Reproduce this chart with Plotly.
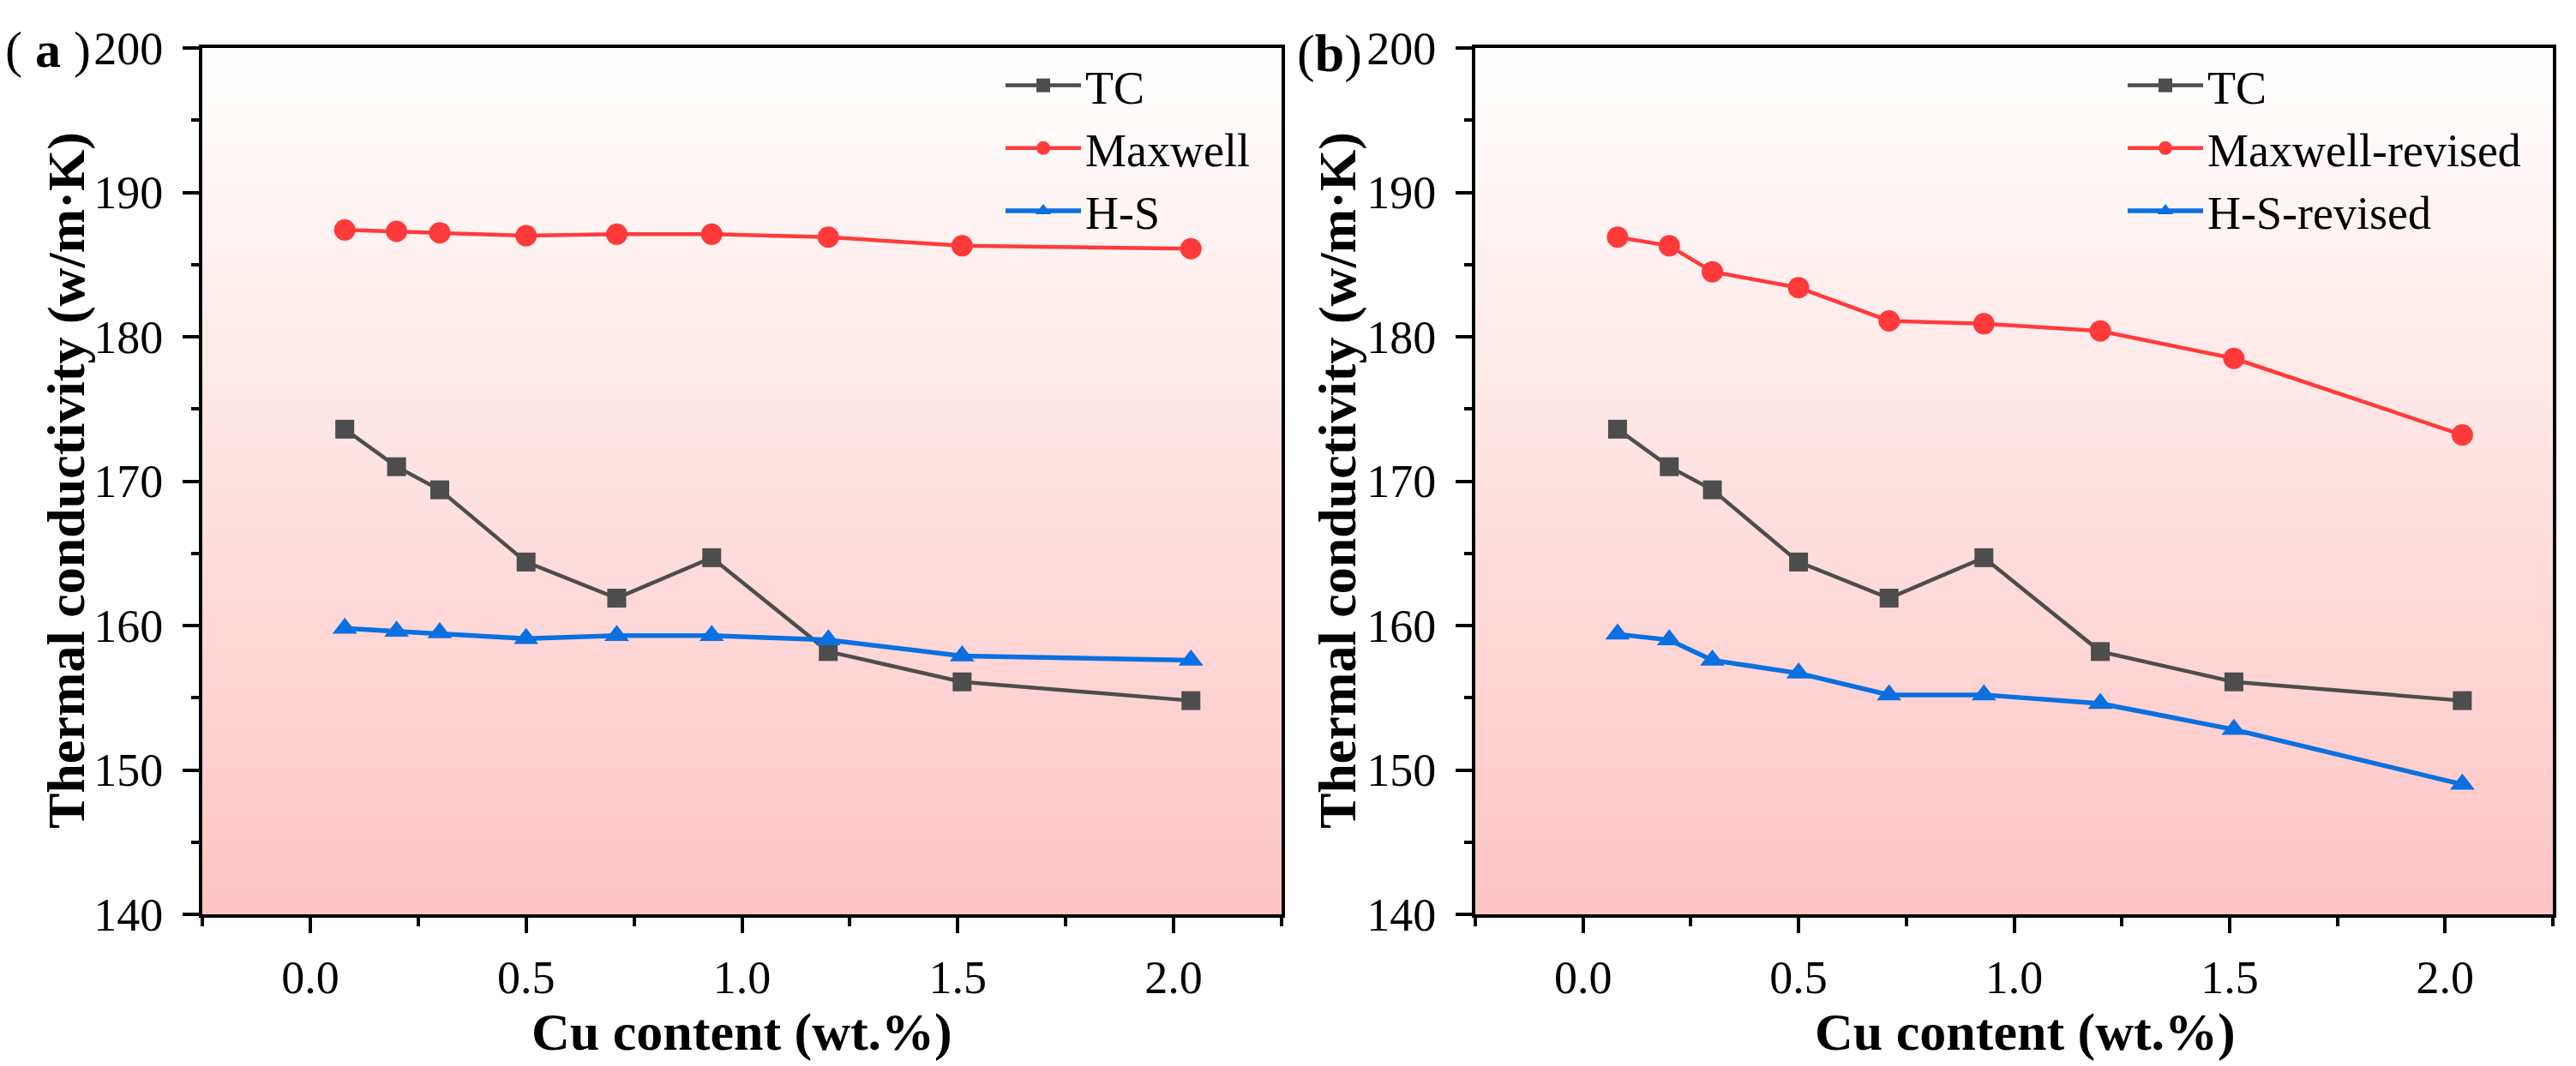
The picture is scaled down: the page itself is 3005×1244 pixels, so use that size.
import plotly.graph_objects as go

# ---------------- data ----------------
cu_content = [0.08, 0.2, 0.3, 0.5, 0.71, 0.93, 1.2, 1.51, 2.04]

tc = [173.6, 171.0, 169.4, 164.4, 161.9, 164.7, 158.2, 156.1, 154.8]

maxwell = [187.4, 187.3, 187.2, 187.0, 187.1, 187.1, 186.9, 186.3, 186.1]
hs = [159.8, 159.6, 159.5, 159.1, 159.3, 159.3, 159.0, 157.9, 157.6]

maxwell_revised = [186.9, 186.3, 184.5, 183.4, 181.1, 180.9, 180.4, 178.5, 173.2]
hs_revised = [159.4, 159.0, 157.6, 156.7, 155.2, 155.2, 154.6, 152.8, 149.0]

x_ticks = [0.0, 0.5, 1.0, 1.5, 2.0]
y_ticks = [140, 150, 160, 170, 180, 190, 200]

# ---------------- style ----------------
FONT = "Liberation Serif, serif"
C_TC = "#4d4d4d"
C_MAX = "#ff3a3a"
C_HS = "#0a70e0"
W, H = 3005, 1244

fig = go.Figure()


def add_panel(xa, ya, legend, names, series):
    specs = [
        (names[0], series[0], C_TC, "square", 22, 4.5),
        (names[1], series[1], C_MAX, "circle", 25, 4.5),
        (names[2], series[2], C_HS, "triangle-up", 25, 5.5),
    ]
    for name, ys, col, sym, ms, lw in specs:
        fig.add_trace(go.Scatter(
            x=cu_content, y=ys, name=name, mode="lines+markers",
            xaxis=xa, yaxis=ya, legend=legend,
            line=dict(color=col, width=lw),
            marker=dict(symbol=sym, size=ms, color=col, line=dict(width=0)),
        ))


add_panel("x", "y", "legend", ["TC", "Maxwell", "H-S"], [tc, maxwell, hs])
add_panel("x2", "y2", "legend2", ["TC", "Maxwell-revised", "H-S-revised"],
          [tc, maxwell_revised, hs_revised])

# gradient background (white top -> pink bottom)
shapes = []
N = 80
top = (255, 255, 255)
bot = (255, 196, 196)
for ax_x, ax_y in (("x", "y"), ("x2", "y2")):
    for i in range(N):
        t = (i + 0.5) / N
        r = round(top[0] + (bot[0] - top[0]) * t)
        g = round(top[1] + (bot[1] - top[1]) * t)
        b = round(top[2] + (bot[2] - top[2]) * t)
        shapes.append(dict(
            type="rect", xref=f"{ax_x} domain", yref=f"{ax_y} domain",
            x0=0, x1=1, y0=1 - (i + 1) / N - 0.002, y1=1 - i / N,
            fillcolor=f"rgb({r},{g},{b})", line=dict(width=0), layer="below",
        ))

xdom_a = [236 / W, 1495 / W]
xdom_b = [1721 / W, 2978 / W]
ydom = [1 - 1067 / H, 1 - 56 / H]

axis_common = dict(
    showgrid=False, zeroline=False, showline=True, linecolor="black",
    linewidth=4, mirror=True, ticks="outside", tickwidth=4, tickcolor="black",
    automargin=False,
    tickfont=dict(family=FONT, size=54, color="black"),
)
xaxis_cfg = dict(axis_common, range=[-0.25, 2.25], tickvals=x_ticks,
                 ticktext=[f"{v:.1f}" for v in x_ticks], ticklen=18,
                 ticklabelstandoff=5,
                 minor=dict(ticks="outside", ticklen=10, tickwidth=4,
                            tickcolor="black", tick0=-0.25, dtick=0.25))
yaxis_cfg = dict(axis_common, range=[140, 200], tickvals=y_ticks,
                 ticktext=[str(v) for v in y_ticks], ticklen=19,
                 ticklabelstandoff=12,
                 minor=dict(ticks="outside", ticklen=9, tickwidth=4,
                            tickcolor="black", tick0=140, dtick=5))

legend_common = dict(
    font=dict(family=FONT, size=54, color="black"),
    bgcolor="rgba(0,0,0,0)", borderwidth=0, itemwidth=88,
    xanchor="left", yanchor="top", tracegroupgap=0,
)

title_font = dict(family=FONT, size=62, color="black")
annotations = [
    dict(text="<b>Cu content (wt.%)</b>", x=865 / W, y=1 - 1204 / H,
         xref="paper", yref="paper", showarrow=False, font=title_font,
         xanchor="center", yanchor="middle"),
    dict(text="<b>Cu content (wt.%)</b>", x=2362 / W, y=1 - 1204 / H,
         xref="paper", yref="paper", showarrow=False, font=title_font,
         xanchor="center", yanchor="middle"),
    dict(text="<b>Thermal conductivity (w/m·K)</b>", x=77 / W, y=1 - 561 / H,
         xref="paper", yref="paper", showarrow=False, font=title_font,
         textangle=-90, xanchor="center", yanchor="middle"),
    dict(text="<b>Thermal conductivity (w/m·K)</b>", x=1560 / W, y=1 - 561 / H,
         xref="paper", yref="paper", showarrow=False, font=title_font,
         textangle=-90, xanchor="center", yanchor="middle"),
    dict(text="( <b>a</b> )", x=56 / W, y=1 - 58 / H, xref="paper",
         yref="paper", showarrow=False,
         font=dict(family=FONT, size=60, color="black"),
         xanchor="center", yanchor="middle"),
    dict(text="(<b>b</b>)", x=1551 / W, y=1 - 62 / H, xref="paper",
         yref="paper", showarrow=False,
         font=dict(family=FONT, size=62, color="black"),
         xanchor="center", yanchor="middle"),
]

fig.update_layout(
    template="none",
    width=W, height=H, autosize=False,
    margin=dict(l=0, r=0, t=0, b=0, pad=0),
    paper_bgcolor="white", plot_bgcolor="white",
    xaxis=dict(xaxis_cfg, domain=xdom_a, anchor="y"),
    yaxis=dict(yaxis_cfg, domain=ydom, anchor="x"),
    xaxis2=dict(xaxis_cfg, domain=xdom_b, anchor="y2"),
    yaxis2=dict(yaxis_cfg, domain=ydom, anchor="x2"),
    legend=dict(legend_common, x=1168 / W, y=1 - 58 / H),
    legend2=dict(legend_common, x=2477 / W, y=1 - 58 / H),
    shapes=shapes,
    annotations=annotations,
    showlegend=True,
)

fig.write_html("out.html")
